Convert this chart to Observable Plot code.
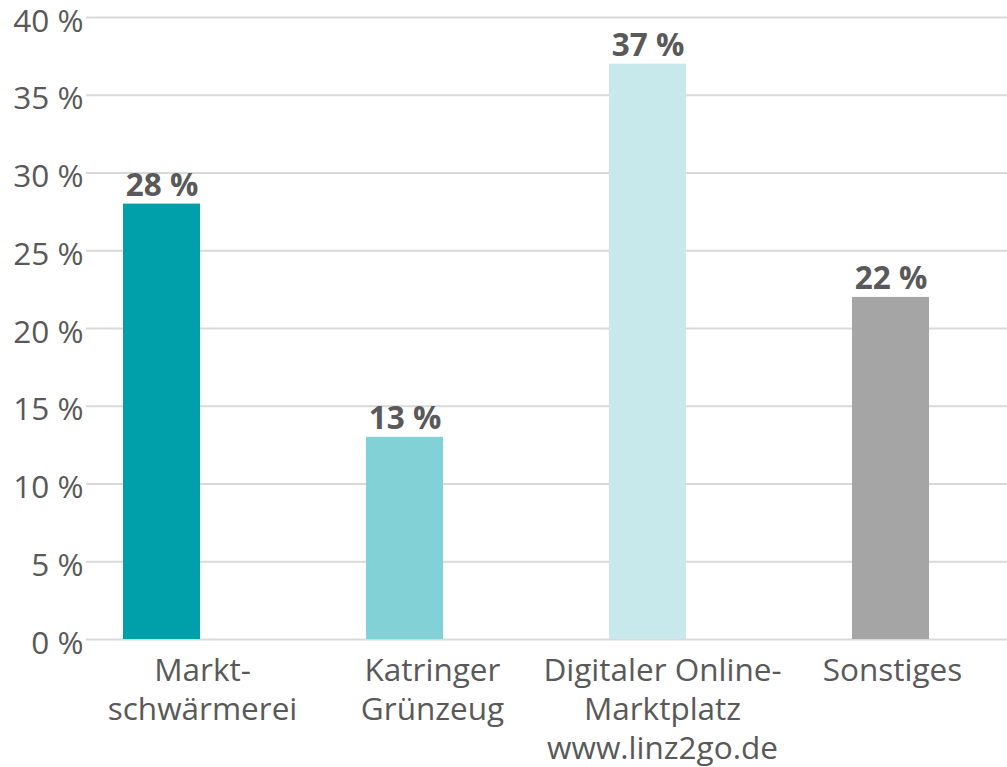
<!DOCTYPE html>
<html>
<head>
<meta charset="utf-8">
<script src="https://cdn.jsdelivr.net/npm/d3@7"></script>
<script src="https://cdn.jsdelivr.net/npm/@observablehq/plot@0.6"></script>
<style>
  body { margin: 0; background: #fff; }
  #chart { position: relative; width: 1007px; height: 767px; }
  #chart svg { position: absolute; left: 0; top: 0; font-family: "Open Sans", sans-serif; overflow: visible; }
</style>
</head>
<body>
<div id="chart"></div>
<script>
const categories = ["Markt-\nschwärmerei", "Katringer\nGrünzeug", "Digitaler Online-\nMarktplatz\nwww.linz2go.de", "Sonstiges"];
const values = [28, 13, 37, 22];
const colors = ["#00A0AB", "#82D1D7", "#C8E9EB", "#A5A5A5"];
const yTicks = [0, 5, 10, 15, 20, 25, 30, 35, 40];

const data = categories.map((c, i) => ({category: c, value: values[i], color: colors[i]}));

const common = {
  width: 1007,
  height: 767,
  marginTop: 17,
  marginBottom: 128,
  marginLeft: 86,
  marginRight: 0
};

// Main plot: gridlines, y axis, bars and value labels
const chart = Plot.plot({
  ...common,
  style: {fontFamily: "Open Sans, sans-serif", color: "#595959", background: "#fff", overflow: "visible"},
  x: {domain: categories, range: [122, 930], paddingInner: 0.684, paddingOuter: 0, axis: null},
  y: {domain: [0, 40]},
  marks: [
    Plot.ruleY(yTicks, {stroke: "#d9d9d9", strokeWidth: 2}),
    Plot.axisY({ticks: yTicks, tickSize: 0, tickPadding: 3, tickFormat: d => d + " %", fontSize: 31.5, fill: "#595959", label: null, dy: 4}),
    Plot.barY(data, {x: "category", y: "value", fill: "color"}),
    Plot.text(data, {x: "category", y: "value", text: d => d.value + " %", dy: -8, lineAnchor: "bottom", fontSize: 31.5, fontWeight: "bold", fill: "#595959"})
  ]
});

// Category axis: spans the full plot width, one equal slot per category
const axis = Plot.plot({
  ...common,
  style: {fontFamily: "Open Sans, sans-serif", color: "#595959", background: "transparent"},
  x: {type: "band", domain: categories, padding: 0},
  y: {domain: [0, 40], axis: null},
  marks: [
    Plot.axisX({tickSize: 0, tickPadding: 14, fontSize: 31.5, lineHeight: 1.235, fill: "#595959", label: null, lineAnchor: "top"})
  ]
});
axis.style.pointerEvents = "none";

const el = document.getElementById("chart");
el.appendChild(chart);
el.appendChild(axis);
</script>
</body>
</html>
